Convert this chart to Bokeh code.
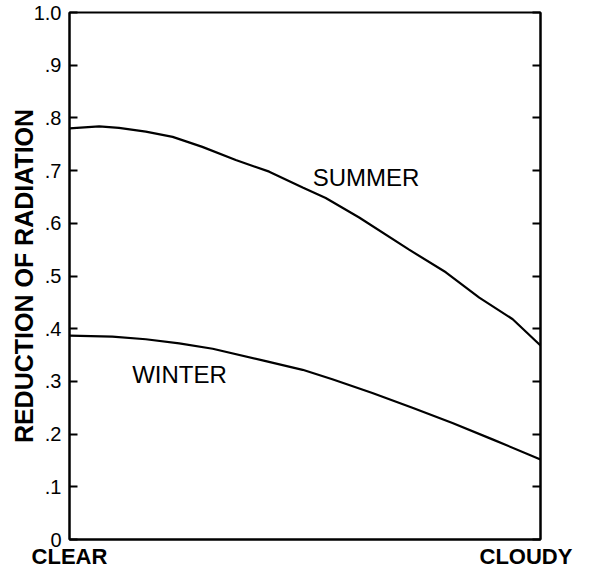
from bokeh.plotting import figure
from bokeh.models import Range1d, LinearAxis, FixedTicker, Label, CustomJSTickFormatter
from bokeh.embed import file_html
from bokeh.resources import INLINE

# Data (x: 0 = clear, 1 = cloudy)
summer_x = [0.0, 0.063, 0.105, 0.162, 0.219, 0.282, 0.353, 0.424, 0.495, 0.544, 0.615, 0.721, 0.799, 0.870, 0.941, 1.0]
summer_y = [0.780, 0.784, 0.781, 0.774, 0.764, 0.745, 0.720, 0.698, 0.668, 0.648, 0.611, 0.550, 0.507, 0.459, 0.418, 0.368]
winter_x = [0.0, 0.091, 0.162, 0.233, 0.304, 0.410, 0.495, 0.558, 0.643, 0.728, 0.813, 0.898, 1.0]
winter_y = [0.387, 0.385, 0.380, 0.372, 0.362, 0.340, 0.322, 0.304, 0.278, 0.250, 0.221, 0.190, 0.152]
y_ticks = [0, 0.1, 0.2, 0.3, 0.4, 0.5, 0.6, 0.7, 0.8, 0.9, 1.0]
x_ticks = [0, 1]
x_labels = ["CLEAR", "CLOUDY"]
series_labels = ["SUMMER", "WINTER"]
y_title = "REDUCTION OF RADIATION"

FONT = "Liberation Sans"

p = figure(width=578, height=573, output_backend="svg", toolbar_location=None,
           x_range=Range1d(0, 1), y_range=Range1d(0, 1),
           x_axis_location=None, y_axis_location=None,
           min_border_left=69, min_border_right=38, min_border_top=12, min_border_bottom=34)
p.grid.visible = False
p.outline_line_color = "black"
p.outline_line_width = 2
p.background_fill_color = "white"
p.border_fill_color = "white"

fmt = CustomJSTickFormatter(code="""
if (Math.abs(tick) < 1e-9) return "0";
if (tick >= 0.999) return tick.toFixed(1);
return tick.toFixed(1).replace(/^0/, "");
""")

left = LinearAxis(ticker=FixedTicker(ticks=y_ticks), formatter=fmt)
left.axis_label = y_title
left.axis_label_text_font = FONT
left.axis_label_text_font_style = "bold"
left.axis_label_text_font_size = "25px"
left.axis_label_text_color = "black"
left.axis_label_standoff = -7
left.major_label_text_font = FONT
left.major_label_text_font_size = "20px"
left.major_label_text_color = "black"
left.major_label_standoff = 8
left.major_tick_in = 8
left.major_tick_out = 0
left.minor_tick_line_color = None
left.axis_line_width = 2
left.major_tick_line_width = 2
p.add_layout(left, "left")

right = LinearAxis(ticker=FixedTicker(ticks=y_ticks),
                   formatter=CustomJSTickFormatter(code='return "";'))
right.major_label_standoff = 0
right.major_tick_in = 8
right.major_tick_out = 0
right.minor_tick_line_color = None
right.axis_line_width = 2
right.major_tick_line_width = 2
p.add_layout(right, "right")

# bottom axis: CLEAR / CLOUDY as tick labels (no tick marks); CLOUDY padded
# with a non-breaking space so that it stays inside the canvas
bottom = LinearAxis(ticker=FixedTicker(ticks=x_ticks),
                    formatter=CustomJSTickFormatter(
                        args=dict(labels=x_labels),
                        code='return tick < 0.5 ? labels[0] : labels[1] + "\\u00a0";'))
bottom.major_label_text_font = FONT
bottom.major_label_text_font_size = "22px"
bottom.major_label_text_font_style = "bold"
bottom.major_label_text_color = "black"
bottom.major_label_standoff = 4
bottom.axis_label_standoff = 0
bottom.major_tick_in = 0
bottom.major_tick_out = 0
bottom.minor_tick_line_color = None
bottom.axis_line_width = 2
p.add_layout(bottom, "below")

p.line(summer_x, summer_y, line_color="black", line_width=2.2)
p.line(winter_x, winter_y, line_color="black", line_width=2.2)

p.add_layout(Label(x=0.6295, y=0.687, text=series_labels[0], text_align="center",
                   text_baseline="alphabetic", text_font=FONT, text_font_size="24px",
                   text_color="black"))
p.add_layout(Label(x=0.2335, y=0.314, text=series_labels[1], text_align="center",
                   text_baseline="alphabetic", text_font=FONT, text_font_size="24px",
                   text_color="black"))

open("out.html", "w").write(file_html(p, INLINE))
